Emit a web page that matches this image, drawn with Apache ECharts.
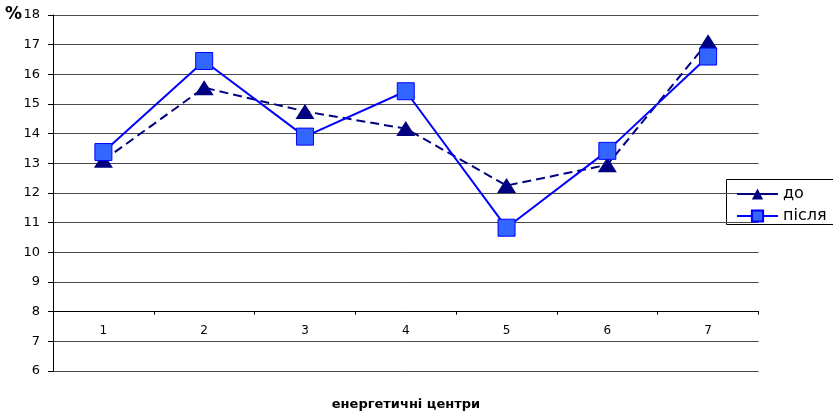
<!DOCTYPE html>
<html>
<head>
<meta charset="utf-8">
<script src="https://cdn.jsdelivr.net/npm/echarts@6/dist/echarts.min.js"></script>
<style>
  html, body { margin: 0; padding: 0; background: #fff; }
  #chart { width: 833px; height: 414px; }
</style>
</head>
<body>
<div id="chart"></div>
<script>
// Energy centres 1..7, share in % before and after
const categories = ['1', '2', '3', '4', '5', '6', '7'];
const before = [13.1, 15.55, 14.75, 14.17, 12.25, 12.95, 17.1];   // до
const after  = [13.38, 16.45, 13.9, 15.43, 10.83, 13.42, 16.6];  // після
const seriesNames = ['до', 'після'];
const yMin = 6, yMax = 18, yStep = 1, xCross = 8;

const FONT = '"DejaVu Sans", Arial, sans-serif';
const gridTop = 15, gridBottom = 43, chartH = 414;
const gridH = chartH - gridTop - gridBottom;
// category axis crosses the value axis at xCross
const xOffset = -gridH * (xCross - yMin) / (yMax - yMin);

const chart = echarts.init(document.getElementById('chart'), null, { renderer: 'canvas' });
chart.setOption({
  animation: false,
  backgroundColor: '#ffffff',
  grid: { left: 53, right: 74.5, top: gridTop, bottom: gridBottom, containLabel: false },
  xAxis: {
    type: 'category',
    data: categories,
    offset: xOffset,
    boundaryGap: true,
    axisLine: { show: true, lineStyle: { color: '#000', width: 1 } },
    axisTick: { show: true, length: 3, inside: false, lineStyle: { color: '#000' } },
    axisLabel: { color: '#000', fontFamily: FONT, fontSize: 12, margin: 13 },
    splitLine: { show: false }
  },
  yAxis: {
    type: 'value',
    min: yMin, max: yMax, interval: yStep,
    axisLine: { show: true, lineStyle: { color: '#000', width: 1 } },
    axisTick: { show: true, length: 5, lineStyle: { color: '#000' } },
    axisLabel: { color: '#000', fontFamily: FONT, fontSize: 13, margin: 13 },
    splitLine: { show: true, lineStyle: { color: '#4a4a4a', width: 1 } }
  },
  legend: {
    orient: 'vertical',
    left: 736, top: 186,
    padding: 0,
    itemWidth: 41, itemHeight: 14, itemGap: 6,
    textStyle: { color: '#000', fontFamily: FONT, fontSize: 16 },
    data: [
      { name: seriesNames[0], lineStyle: { type: 'solid' } },
      { name: seriesNames[1] }
    ]
  },
  graphic: [
    { type: 'rect', shape: { x: 726.5, y: 179.5, width: 120, height: 45 },
      style: { fill: 'none', stroke: '#000', lineWidth: 1 }, z: 0 },
    { type: 'text', left: 5, top: 6,
      style: { text: '%', fontFamily: FONT, fontSize: 17, fontWeight: 'bold', fill: '#000' } },
    { type: 'text', x: 406, y: 405,
      style: { text: 'енергетичні центри', fontFamily: FONT, fontSize: 13, fontWeight: 'bold',
               fill: '#000', align: 'center', verticalAlign: 'middle' } }
  ],
  series: [
    {
      name: seriesNames[0],
      type: 'line',
      data: before,
      symbol: 'triangle',
      symbolSize: [19, 15],
      itemStyle: { color: '#000080' },
      lineStyle: { color: '#000080', width: 2, type: [9, 5] },
      z: 2
    },
    {
      name: seriesNames[1],
      type: 'line',
      data: after,
      symbol: 'rect',
      symbolSize: 17,
      itemStyle: { color: '#3366ff', borderColor: '#0000ff', borderWidth: 1 },
      lineStyle: { color: '#0000ff', width: 2 },
      z: 3
    }
  ]
});
</script>
</body>
</html>
